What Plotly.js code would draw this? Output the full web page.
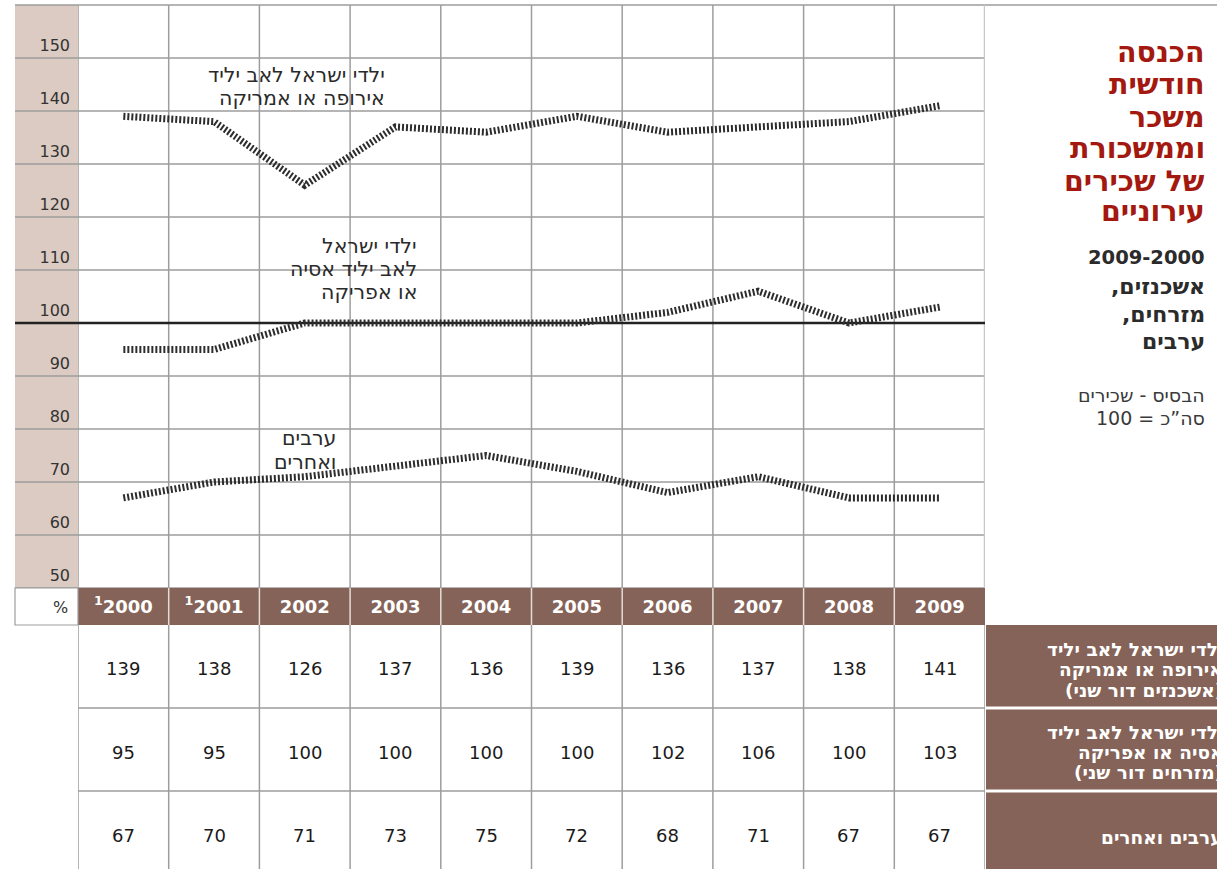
<!DOCTYPE html>
<html>
<head>
<meta charset="utf-8">
<script src="https://cdn.plot.ly/plotly-3.0.1.min.js"></script>
<style>html,body{margin:0;padding:0;background:#fff;}#chart{width:1217px;height:869px;}</style>
</head>
<body>
<div id="chart"></div>
<script>
// ---- data ----
const years = ['2000','2001','2002','2003','2004','2005','2006','2007','2008','2009'];
const yearNotes = ['1','1','','','','','','','',''];
const europeAmerica = [139,138,126,137,136,139,136,137,138,141];
const asiaAfrica = [95,95,100,100,100,100,102,106,100,103];
const arabsOthers = [67,70,71,73,75,72,68,71,67,67];
const yTicks = [50,60,70,80,90,100,110,120,130,140,150];
const rowLabels = [
  ['ילדי ישראל לאב יליד','אירופה או אמריקה','(אשכנזים דור שני)'],
  ['ילדי ישראל לאב יליד','אסיה או אפריקה','(מזרחים דור שני)'],
  ['ערבים ואחרים']
];
const lineLabels = [
  ['ילדי ישראל לאב יליד','אירופה או אמריקה'],
  ['ילדי ישראל','לאב יליד אסיה','או אפריקה'],
  ['ערבים','ואחרים']
];
const titleLines = ['הכנסה','חודשית','משכר','וממשכורת','של שכירים','עירוניים'];
const subtitleLines = ['2009-2000','אשכנזים,\u200F','מזרחים,\u200F','ערבים'];
const noteLines = ['הבסיס - שכירים','100\u200E = \u200Eסה”כ'];

// ---- geometry helpers (layout only) ----
const W = 1217, H = 869;
const L = 78, R = 985, T = 5, B = 588;
const pw = R - L, ph = B - T;
const px = p => (p - L) / pw;      // pixel x -> paper x
const py = p => (B - p) / ph;      // pixel y -> paper y

const FONT = 'DejaVu Sans, Open Sans, sans-serif';
const GRID = '#9d9d9d';
const BROWN = '#856358';
const BEIGE = '#dccbc2';

const shapes = [];
const annotations = [];

function addText(lines, xPx, yCentersPx, font, fonts) {
  lines.forEach((t, i) => {
    annotations.push({xref:'paper', yref:'paper', x:px(xPx), y:py(yCentersPx[i]), xanchor:'right', yanchor:'middle', align:'right',
      text:t, showarrow:false, font:(fonts && fonts[i]) || font});
  });
}

// beige tick column
shapes.push({type:'rect', xref:'paper', yref:'paper', x0:px(15), x1:0, y0:0, y1:1, fillcolor:BEIGE, line:{width:0}, layer:'below'});
// horizontal grid lines
yTicks.forEach(v => {
  shapes.push({type:'line', xref:'paper', yref:'y', x0:px(15), x1:1, y0:v, y1:v, line:{color:GRID, width:1.5}, layer:'below'});
});
// top border
shapes.push({type:'line', xref:'paper', yref:'paper', x0:px(15), x1:px(W), y0:1, y1:1, line:{color:GRID, width:1.5}, layer:'below'});
// vertical grid lines in plot
for (let k = 0; k <= years.length; k++) {
  const last = k === years.length;
  shapes.push({type:'line', xref:'x', yref:'paper', x0:k-0.5, x1:k-0.5, y0:0, y1:1, line:{color:last?'#c8c8c8':GRID, width:last?2.5:1.5}, layer:'below'});
}
// 100 base line
shapes.push({type:'line', xref:'paper', yref:'y', x0:px(15), x1:1, y0:100, y1:100, line:{color:'#222', width:2.5}, layer:'below'});
// year row (below the axis tick labels)
shapes.push({type:'rect', xref:'paper', yref:'paper', x0:0, x1:1, y0:py(625), y1:0, fillcolor:BROWN, line:{width:0}, layer:'below'});
for (let k = 1; k < years.length; k++) {
  shapes.push({type:'line', xref:'paper', yref:'paper', x0:k/years.length, x1:k/years.length, y0:py(625), y1:0, line:{color:'#e4dcd8', width:1.5}, layer:'below'});
}
// % cell
shapes.push({type:'rect', xref:'paper', yref:'paper', x0:px(15), x1:0, y0:py(625), y1:0, fillcolor:'#fff', line:{color:GRID, width:1.2}, layer:'below'});
annotations.push({xref:'paper', yref:'paper', x:px(70), y:py(607), xanchor:'right', yanchor:'middle', text:'%', showarrow:false, font:{family:FONT, size:16, color:'#333'}});

// table rows
const rowTops = [625, 708, 791];
const rowBottoms = [708, 791, 869];
const tableSeries = [europeAmerica, asiaAfrica, arabsOthers];
for (let k = 0; k <= years.length; k++) {
  shapes.push({type:'line', xref:'x', yref:'paper', x0:k-0.5, x1:k-0.5, y0:py(869), y1:py(625), line:{color:GRID, width:1.5}});
}
[708, 791].forEach(p => {
  shapes.push({type:'line', xref:'x', yref:'paper', x0:-0.5, x1:years.length-0.5, y0:py(p), y1:py(p), line:{color:GRID, width:1.5}});
});
const rowLabelCenters = [[649, 669.5, 690], [732, 752.5, 773], [837]];
const numberCenters = [668, 752, 835];
tableSeries.forEach((arr, r) => {
  arr.forEach((v, i) => {
    annotations.push({xref:'x', yref:'paper', x:i, y:py(numberCenters[r]), text:String(v), showarrow:false, xanchor:'center', yanchor:'middle', font:{family:FONT, size:18, color:'#1a1a1a'}});
  });
  shapes.push({type:'rect', xref:'paper', yref:'paper', x0:px(986), x1:px(W+5), y0:py(rowBottoms[r] - (r<2?1.5:0)), y1:py(rowTops[r] + (r>0?1.5:0)), fillcolor:BROWN, line:{width:0}});
  addText(rowLabels[r], 1225, rowLabelCenters[r], {family:FONT, size:18.5, color:'#fff', weight:'bold'});
});

// line labels
const lineFont = {family:FONT, size:20.5, color:'#2a2a2a'};
addText(lineLabels[0], 387, [75, 98], lineFont);
addText(lineLabels[1], 419, [246, 269, 292], lineFont);
addText(lineLabels[2], 338, [438, 462], lineFont);

// titles
addText(titleLines, 1207, [53, 85, 117, 149, 181, 212], {family:FONT, size:28.5, color:'#a3180f', weight:'bold'});
const subFont = {family:FONT, size:22, color:'#2b2b2b', weight:'bold'};
addText(subtitleLines, 1207, [257, 286, 314, 341], subFont, [{family:FONT, size:19.5, color:'#2b2b2b', weight:'bold'}]);
addText(noteLines, 1207, [395, 418], {family:FONT, size:19, color:'#3a3a3a'});

const xs = years.map((_, i) => i);
const lineStyle = {color:'#2d2d2d', width:7, dash:'2px,2px'};
const traces = [europeAmerica, asiaAfrica, arabsOthers].map(arr => ({
  type:'scatter', mode:'lines', x:xs, y:arr, line:lineStyle, hoverinfo:'skip', showlegend:false
}));

const layout = {
  width:W, height:H,
  margin:{l:L, r:W-R, t:T, b:H-B, pad:0},
  paper_bgcolor:'#fff', plot_bgcolor:'rgba(0,0,0,0)',
  showlegend:false,
  xaxis:{range:[-0.5, years.length-0.5], tickvals:xs, ticktext:years.map((y,i)=> (yearNotes[i] ? '<sup>'+yearNotes[i]+'</sup>' : '') + y),
         showgrid:false, zeroline:false, showline:false, ticks:'', ticklabelstandoff:6,
         tickfont:{family:FONT, size:18, color:'#fff', weight:'bold'}, fixedrange:true},
  yaxis:{range:[50, 160], tickvals:yTicks, ticktext:yTicks.map(String), showgrid:false, zeroline:false, showline:false, ticks:'',
         ticklabelshift:-13, ticklabelstandoff:7, tickfont:{family:FONT, size:16, color:'#333'}, fixedrange:true},
  shapes:shapes,
  annotations:annotations,
  font:{family:FONT}
};

Plotly.newPlot('chart', traces, layout, {staticPlot:true, displayModeBar:false});
</script>
</body>
</html>
